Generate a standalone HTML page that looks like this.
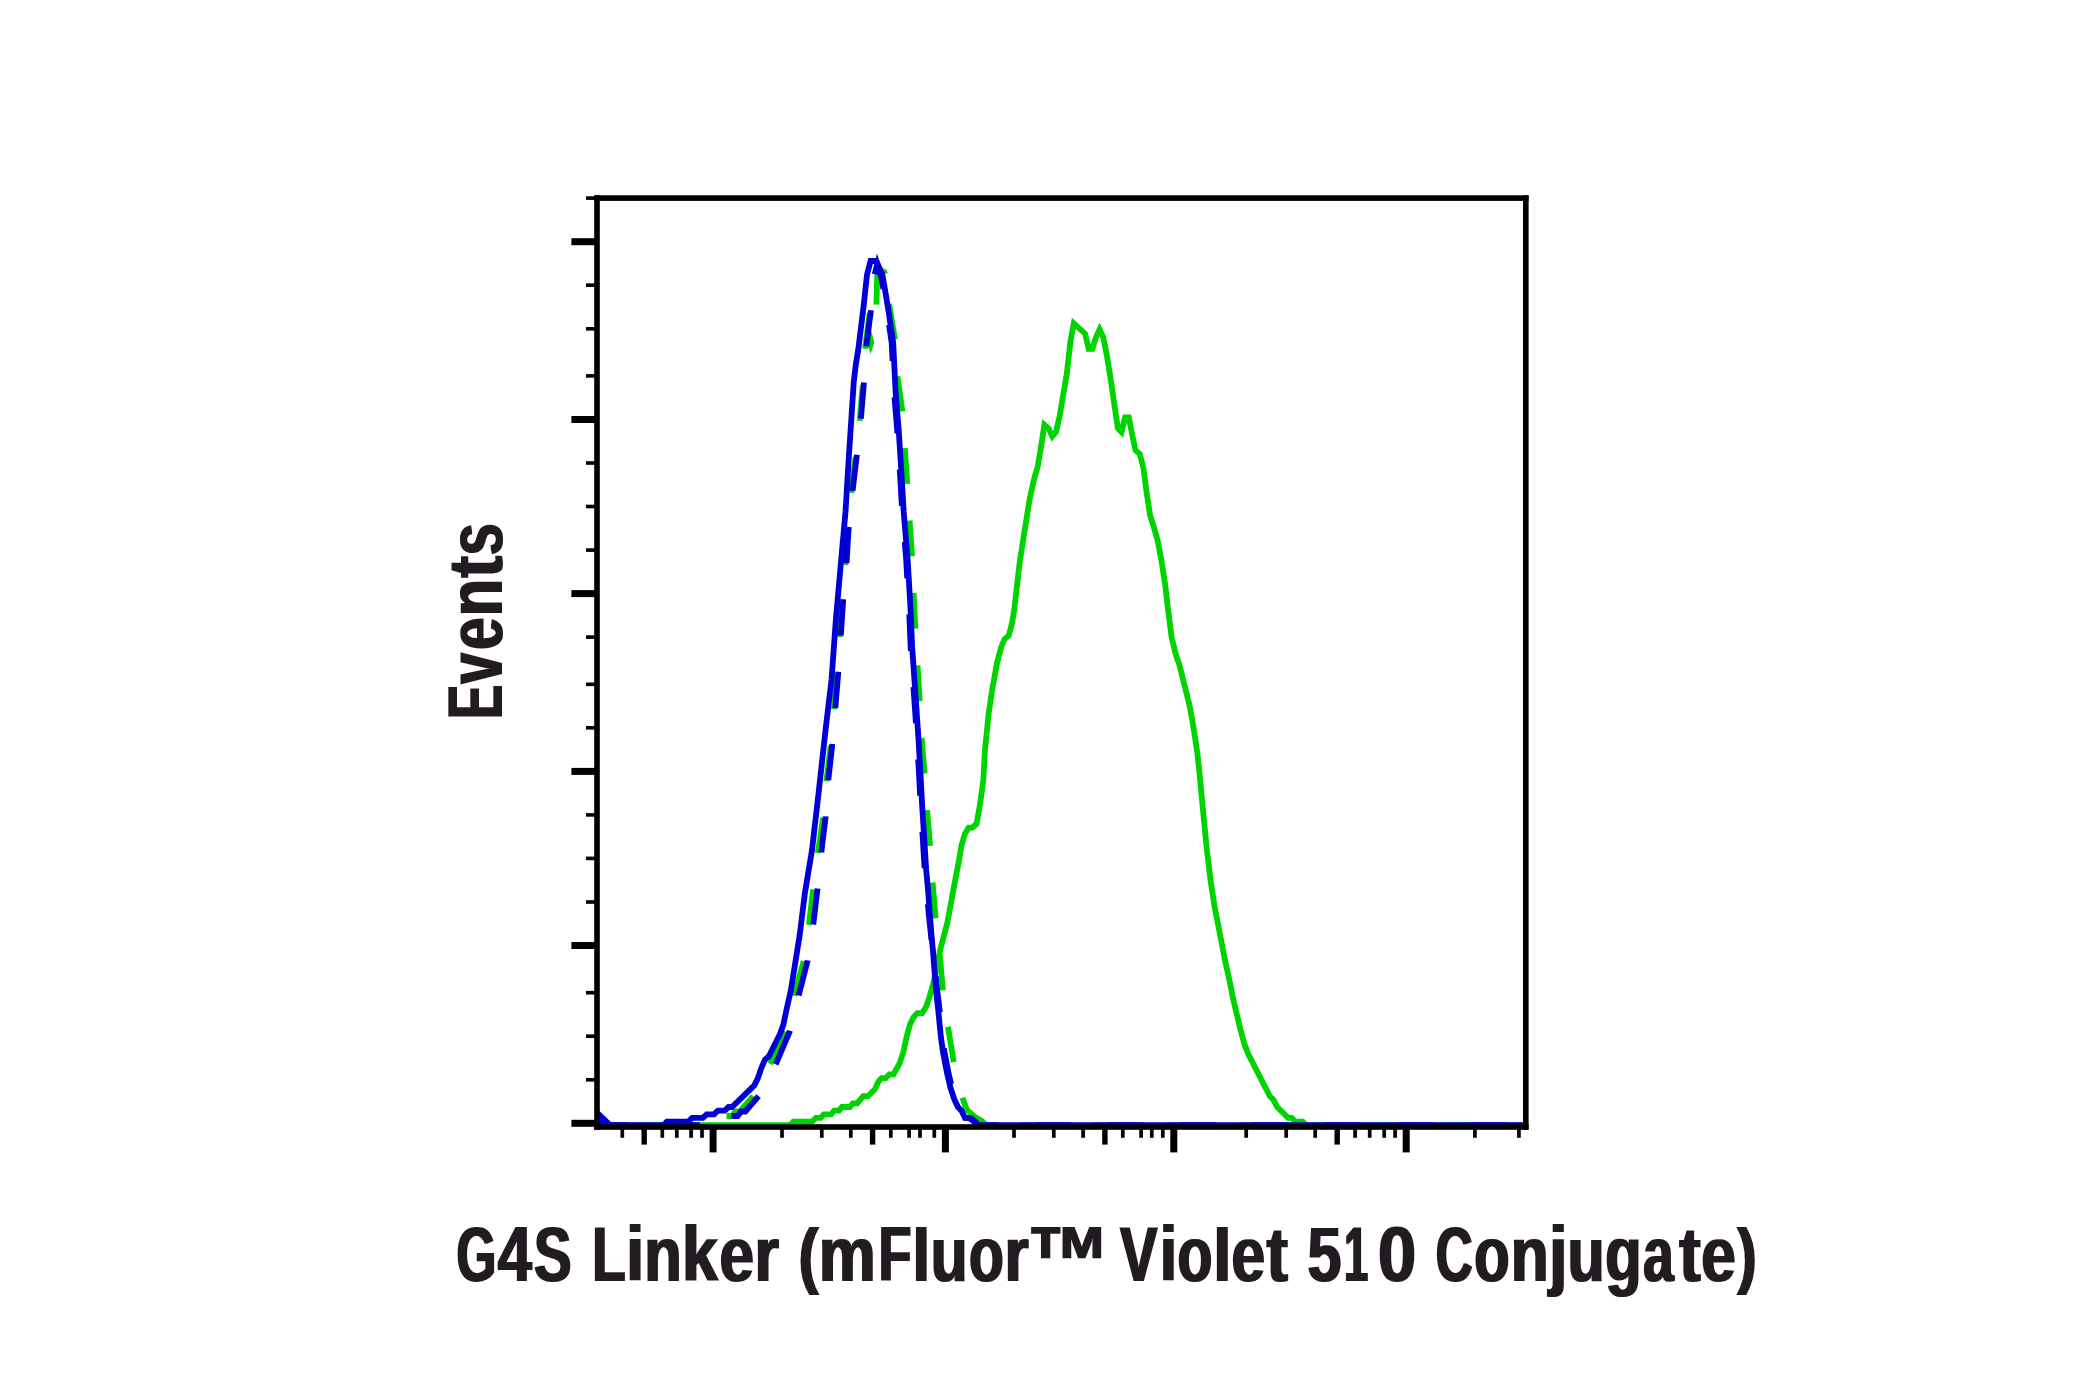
<!DOCTYPE html>
<html lang="en">
<head>
<meta charset="utf-8">
<title>G4S Linker (mFluor™ Violet 510 Conjugate) – flow cytometry histogram</title>
<style>
html,body{margin:0;padding:0;background:#ffffff;overflow:hidden;}
body{width:2080px;height:1400px;overflow:hidden;font-family:"Liberation Sans",Arial,Helvetica,sans-serif;}
svg{display:block;}
</style>
</head>
<body>
<svg width="2080" height="1400" viewBox="0 0 2080 1400">
<rect width="2080" height="1400" fill="#ffffff"/>
<g fill="none" stroke-linejoin="miter" stroke-miterlimit="10" stroke-linecap="butt">
<polyline id="gs" stroke="#00d400" stroke-width="5.8" points="597.0,1125.2 790.4,1125.2 793.4,1121.6 812.2,1121.6 815.9,1117.9 820.7,1117.9 823.8,1114.3 831.1,1114.3 834.1,1110.7 839.0,1110.7 842.0,1107.0 849.9,1107.0 852.9,1103.4 857.2,1103.4 863.2,1096.2 868.1,1096.2 874.8,1089.4 878.4,1081.5 881.5,1078.1 885.7,1078.1 889.4,1074.4 893.6,1074.4 899.7,1063.2 903.3,1052.3 906.4,1037.7 910.0,1024.4 913.6,1017.1 917.3,1013.1 922.2,1013.1 926.4,1006.2 930.0,995.2 933.7,981.9 940.2,950.0 947.5,922.1 953.5,889.3 959.0,860.2 961.4,845.6 965.1,833.4 968.7,827.6 972.4,827.6 976.6,823.7 979.6,806.7 982.1,789.7 983.3,780.0 985.0,749.7 988.7,713.2 992.3,689.0 997.2,662.2 1001.4,646.4 1004.5,639.2 1008.7,635.7 1011.7,624.6 1014.2,610.0 1019.5,563.9 1023.2,539.6 1029.8,498.3 1034.1,478.9 1037.7,466.7 1041.0,447.0 1044.4,424.8 1048.6,428.5 1052.3,436.4 1055.9,432.1 1059.6,416.3 1066.8,373.8 1070.5,341.0 1073.8,323.4 1085.1,333.7 1088.7,348.9 1092.4,348.9 1096.0,337.4 1099.6,329.5 1103.3,337.4 1106.9,355.6 1110.6,378.7 1117.9,428.5 1121.5,432.1 1125.1,417.5 1128.8,417.5 1132.4,435.8 1135.5,450.3 1139.8,454.0 1143.4,467.9 1146.4,491.0 1150.1,515.3 1154.3,528.7 1158.0,542.0 1161.6,561.5 1165.3,585.7 1167.5,605.0 1171.7,637.7 1175.9,654.7 1179.6,665.6 1189.9,706.9 1193.5,727.5 1197.2,751.8 1199.2,770.0 1203.2,812.5 1206.8,849.0 1210.4,879.3 1214.7,907.3 1221.1,940.0 1224.9,960.0 1229.8,981.9 1233.4,1000.1 1240.7,1030.4 1244.4,1043.8 1248.0,1053.5 1269.9,1096.2 1273.5,1099.8 1277.2,1107.0 1288.1,1117.9 1291.7,1117.9 1295.4,1121.6 1302.7,1121.6 1306.3,1125.2 1526.0,1125.2"/>
<polyline id="gdl" stroke="#00d400" stroke-width="5.8" stroke-dasharray="35.9 36.5" stroke-dashoffset="9" points="597.0,1121.0 601.0,1125.2 694.5,1125.2 698.1,1120.4 718.5,1120.4 722.1,1116.0 732.1,1116.0 735.5,1111.5 739.8,1111.5 753.5,1095.7 762.5,1080.0 771.1,1062.3 784.4,1031.0 794.6,994.5 803.7,961.1 809.0,924.1 813.2,888.9 818.3,850.0 823.2,817.3 826.5,780.2 830.9,744.4 834.2,707.9 837.3,672.2 839.8,635.7 842.2,599.9 845.5,563.4 847.7,527.6 851.6,490.8 855.8,455.5 859.9,418.5 862.9,383.3 865.3,346.6 870.2,309.0"/>
<polygon id="gdk" fill="#00d400" stroke="none" points="870.9,329.5 874.0,341 874.0,343.5 870.6,354 868,346 868,335"/>
<polyline id="gdt" stroke="#00d400" stroke-width="5.8" points="876.4,304.6 877.2,276.0 879.5,269.5 884.3,272.0 884.9,274.0"/>
<polyline id="gdr" stroke="#00d400" stroke-width="5.8" stroke-dasharray="35.8 36.75" points="889.1,304.0 894.9,339.1 897.5,376.3 902.4,411.6 904.8,448.2 907.3,484.1 909.6,520.9 912.1,556.8 913.6,593.2 915.4,629.6 917.5,665.5 919.8,701.3 921.6,738.3 924.6,773.5 927.1,810.6 930.1,845.8 932.6,882.8 935.7,918.6 939.8,954.5 942.9,990.9 948.0,1027.0 953.7,1062.0 958.0,1082.0 962.5,1098.0 967.0,1110.0 975.0,1117.0 982.0,1121.0 986.0,1125.2 1526.0,1125.2"/>
<polyline id="bd" stroke="#0000d4" stroke-width="5.8" stroke-dasharray="36.3 36.3" stroke-dashoffset="3.7" points="597.0,1119.0 603.5,1125.2 700.0,1125.2 703.6,1120.4 724.0,1120.4 727.6,1116.0 737.6,1116.0 741.0,1111.5 745.3,1111.5 759.0,1095.7 768.0,1080.0 776.6,1062.3 789.9,1031.0 798.9,994.5 807.5,961.1 813.3,924.1 817.5,888.9 821.6,850.0 825.6,817.3 828.3,780.2 832.3,744.4 835.3,707.9 838.3,672.2 840.8,635.7 843.2,599.9 846.5,563.4 848.7,527.6 852.6,490.8 856.8,455.5 860.9,418.5 863.9,383.3 866.3,346.6 870.9,310.3 874.5,275.0 877.3,264.0 880.8,274.7 883.3,288.4 887.3,312.7 891.7,343.0 894.2,393.6 897.2,430.0 900.3,478.6 902.2,512.0 906.1,558.6 909.0,608.0 910.6,646.4 913.3,685.0 916.8,736.0 918.8,770.0 920.5,803.0 922.9,840.7 924.7,869.9 926.5,889.3 928.7,913.6 931.3,937.9 932.9,950.0 937.2,990.0 940.0,1013.0 942.5,1038.0 944.5,1052.0 948.5,1073.0 952.0,1088.0 956.0,1099.8 959.5,1107.0 963.0,1110.7 966.5,1117.9 970.5,1117.9 975.5,1121.6 978.0,1125.2 1526.0,1125.2"/>
<polyline id="bs" stroke="#0000d4" stroke-width="5.8" points="597.0,1112.7 610.0,1125.2 663.4,1125.2 666.9,1121.6 688.3,1121.6 692.1,1117.9 702.9,1117.9 706.7,1114.3 714.0,1114.3 717.9,1110.7 724.7,1110.7 728.6,1107.0 732.0,1107.0 754.3,1085.4 757.7,1078.6 761.6,1067.4 765.0,1059.7 768.9,1056.3 780.0,1034.0 783.4,1024.6 786.0,1012.0 791.0,989.7 799.7,935.0 805.0,892.5 812.0,850.0 819.0,789.3 825.7,728.6 831.5,680.0 835.9,619.3 840.2,570.7 845.5,512.0 849.0,454.3 851.4,417.9 853.8,381.4 856.0,363.2 858.2,350.0 863.8,304.6 867.0,274.7 870.6,261.0 876.3,261.0 882.3,274.7 884.8,288.4 888.8,312.7 893.2,343.0 895.7,393.6 898.7,430.0 901.8,478.6 903.7,512.0 907.6,558.6 910.5,608.0 912.1,646.4 914.8,685.0 918.3,736.0 920.3,770.0 922.0,803.0 924.4,840.7 926.2,869.9 928.0,889.3 929.8,913.6 931.7,937.9 932.9,950.0 936.0,990.0 938.5,1013.0 941.0,1038.0 943.0,1052.0 947.0,1073.0 950.5,1088.0 954.5,1099.8 958.0,1107.0 961.5,1110.7 965.0,1117.9 969.0,1117.9 974.0,1121.6 978.0,1125.2 1526.0,1125.2"/>
</g>
<g fill="#000000">
<rect x="594.2" y="195.3" width="5.6" height="934.5"/>
<rect x="1523.0" y="195.3" width="5.6" height="934.5"/>
<rect x="594.2" y="195.3" width="934.4" height="5.6"/>
<rect x="594.2" y="1124.2" width="934.4" height="5.6"/>
<rect x="586" y="196.3" width="9.5" height="3.6"/>
<rect x="571.4" y="238.2" width="24" height="7"/>
<rect x="586" y="283.4" width="9.5" height="3.6"/>
<rect x="586" y="327.0" width="9.5" height="3.6"/>
<rect x="586" y="374.1" width="9.5" height="3.6"/>
<rect x="571.4" y="416.0" width="24" height="7"/>
<rect x="586" y="461.2" width="9.5" height="3.6"/>
<rect x="586" y="504.7" width="9.5" height="3.6"/>
<rect x="586" y="548.3" width="9.5" height="3.6"/>
<rect x="571.4" y="590.1" width="24" height="7"/>
<rect x="586" y="635.3" width="9.5" height="3.6"/>
<rect x="586" y="682.5" width="9.5" height="3.6"/>
<rect x="586" y="726.0" width="9.5" height="3.6"/>
<rect x="571.4" y="767.9" width="24" height="7"/>
<rect x="586" y="813.1" width="9.5" height="3.6"/>
<rect x="586" y="856.6" width="9.5" height="3.6"/>
<rect x="586" y="900.2" width="9.5" height="3.6"/>
<rect x="571.4" y="942.0" width="24" height="7"/>
<rect x="586" y="990.9" width="9.5" height="3.6"/>
<rect x="586" y="1034.4" width="9.5" height="3.6"/>
<rect x="586" y="1078.0" width="9.5" height="3.6"/>
<rect x="571.4" y="1119.8" width="24" height="7"/>
<rect x="620.45" y="1128.8" width="3.7" height="9.0"/>
<rect x="660.45" y="1128.8" width="3.7" height="9.0"/>
<rect x="674.95" y="1128.8" width="3.7" height="9.0"/>
<rect x="689.25" y="1128.8" width="3.7" height="9.0"/>
<rect x="700.15" y="1128.8" width="3.7" height="9.0"/>
<rect x="780.15" y="1128.8" width="3.7" height="9.0"/>
<rect x="819.95" y="1128.8" width="3.7" height="9.0"/>
<rect x="848.95" y="1128.8" width="3.7" height="9.0"/>
<rect x="888.95" y="1128.8" width="3.7" height="9.0"/>
<rect x="907.25" y="1128.8" width="3.7" height="9.0"/>
<rect x="918.15" y="1128.8" width="3.7" height="9.0"/>
<rect x="932.45" y="1128.8" width="3.7" height="9.0"/>
<rect x="1012.15" y="1128.8" width="3.7" height="9.0"/>
<rect x="1051.95" y="1128.8" width="3.7" height="9.0"/>
<rect x="1081.25" y="1128.8" width="3.7" height="9.0"/>
<rect x="1120.95" y="1128.8" width="3.7" height="9.0"/>
<rect x="1139.25" y="1128.8" width="3.7" height="9.0"/>
<rect x="1149.95" y="1128.8" width="3.7" height="9.0"/>
<rect x="1160.95" y="1128.8" width="3.7" height="9.0"/>
<rect x="1244.35" y="1128.8" width="3.7" height="9.0"/>
<rect x="1284.35" y="1128.8" width="3.7" height="9.0"/>
<rect x="1313.35" y="1128.8" width="3.7" height="9.0"/>
<rect x="1353.25" y="1128.8" width="3.7" height="9.0"/>
<rect x="1367.85" y="1128.8" width="3.7" height="9.0"/>
<rect x="1382.35" y="1128.8" width="3.7" height="9.0"/>
<rect x="1393.25" y="1128.8" width="3.7" height="9.0"/>
<rect x="1473.05" y="1128.8" width="3.7" height="9.0"/>
<rect x="1517.05" y="1128.8" width="3.7" height="9.0"/>
<rect x="641.50" y="1128.8" width="5.4" height="15.8"/>
<rect x="869.90" y="1128.8" width="5.4" height="15.8"/>
<rect x="1102.20" y="1128.8" width="5.4" height="15.8"/>
<rect x="1334.50" y="1128.8" width="5.4" height="15.8"/>
<rect x="709.60" y="1128.8" width="7" height="23.6"/>
<rect x="941.90" y="1128.8" width="7" height="23.6"/>
<rect x="1170.30" y="1128.8" width="7" height="23.6"/>
<rect x="1402.70" y="1128.8" width="7" height="23.6"/>
</g>
<defs><filter id="hb" x="-5%" y="-20%" width="110%" height="140%"><feMorphology operator="dilate" radius="1 0"/></filter><filter id="vb" x="-20%" y="-5%" width="140%" height="110%"><feMorphology operator="dilate" radius="0 1"/></filter></defs>
<g fill="#231f20" font-family="'Liberation Sans', Arial, Helvetica, sans-serif" font-weight="bold" font-size="78.5">
<g filter="url(#hb)"><text x="457" y="1280.8"><tspan x="456.50" y="1280.8" textLength="39.77" lengthAdjust="spacingAndGlyphs">G</tspan><tspan x="497.67" y="1280.8" textLength="34.06" lengthAdjust="spacingAndGlyphs">4</tspan><tspan x="533.98" y="1280.8" textLength="37.52" lengthAdjust="spacingAndGlyphs">S</tspan> <tspan x="592.35" y="1280.8" textLength="33.33" lengthAdjust="spacingAndGlyphs">L</tspan><tspan x="626.22" y="1280.8" textLength="17.82" lengthAdjust="spacingAndGlyphs">i</tspan><tspan x="644.16" y="1280.8" textLength="37.44" lengthAdjust="spacingAndGlyphs">n</tspan><tspan x="682.07" y="1280.8" textLength="36.06" lengthAdjust="spacingAndGlyphs">k</tspan><tspan x="719.47" y="1280.8" textLength="34.55" lengthAdjust="spacingAndGlyphs">e</tspan><tspan x="754.45" y="1280.8" textLength="24.50" lengthAdjust="spacingAndGlyphs">r</tspan> <tspan x="798.50" y="1279.8" textLength="20.06" lengthAdjust="spacingAndGlyphs" font-size="72.74">(</tspan><tspan x="818.87" y="1280.8" textLength="57.00" lengthAdjust="spacingAndGlyphs">m</tspan><tspan x="878.39" y="1280.8" textLength="32.99" lengthAdjust="spacingAndGlyphs">F</tspan><tspan x="912.57" y="1280.8" textLength="17.62" lengthAdjust="spacingAndGlyphs" font-size="74.53">l</tspan><tspan x="930.76" y="1280.8" textLength="36.81" lengthAdjust="spacingAndGlyphs">u</tspan><tspan x="968.88" y="1280.8" textLength="34.74" lengthAdjust="spacingAndGlyphs">o</tspan><tspan x="1004.39" y="1280.8" textLength="24.25" lengthAdjust="spacingAndGlyphs">r</tspan><tspan x="1027.01" y="1295.9" textLength="83.34" lengthAdjust="spacingAndGlyphs" font-size="100.0">™</tspan> <tspan x="1120.02" y="1280.8" textLength="37.47" lengthAdjust="spacingAndGlyphs">V</tspan><tspan x="1159.72" y="1280.8" textLength="17.41" lengthAdjust="spacingAndGlyphs">i</tspan><tspan x="1177.47" y="1280.8" textLength="34.86" lengthAdjust="spacingAndGlyphs">o</tspan><tspan x="1213.32" y="1280.8" textLength="18.22" lengthAdjust="spacingAndGlyphs" font-size="74.53">l</tspan><tspan x="1231.54" y="1280.8" textLength="33.63" lengthAdjust="spacingAndGlyphs">e</tspan><tspan x="1266.41" y="1280.8" textLength="21.47" lengthAdjust="spacingAndGlyphs">t</tspan> <tspan x="1307.43" y="1280.8" textLength="33.87" lengthAdjust="spacingAndGlyphs">5</tspan><tspan x="1344.31" y="1280.8" textLength="23.78" lengthAdjust="spacingAndGlyphs">1</tspan><tspan x="1377.99" y="1280.8" textLength="38.12" lengthAdjust="spacingAndGlyphs">0</tspan> <tspan x="1435.70" y="1280.8" textLength="36.89" lengthAdjust="spacingAndGlyphs">C</tspan><tspan x="1474.24" y="1280.8" textLength="35.32" lengthAdjust="spacingAndGlyphs">o</tspan><tspan x="1510.80" y="1280.8" textLength="37.95" lengthAdjust="spacingAndGlyphs">n</tspan><tspan x="1549.04" y="1280.8" textLength="18.55" lengthAdjust="spacingAndGlyphs">j</tspan><tspan x="1567.52" y="1280.8" textLength="37.19" lengthAdjust="spacingAndGlyphs">u</tspan><tspan x="1605.36" y="1280.8" textLength="36.32" lengthAdjust="spacingAndGlyphs">g</tspan><tspan x="1643.20" y="1280.8" textLength="30.35" lengthAdjust="spacingAndGlyphs">a</tspan><tspan x="1679.31" y="1280.8" textLength="21.47" lengthAdjust="spacingAndGlyphs">t</tspan><tspan x="1701.27" y="1280.8" textLength="34.55" lengthAdjust="spacingAndGlyphs">e</tspan><tspan x="1737.24" y="1279.8" textLength="19.47" lengthAdjust="spacingAndGlyphs" font-size="72.74">)</tspan></text></g>
<g filter="url(#vb)"><text transform="translate(502 0) rotate(-90)" x="-717" y="0"><tspan x="-719.12" y="0" textLength="34.12" lengthAdjust="spacingAndGlyphs">E</tspan><tspan x="-683.72" y="0" textLength="30.76" lengthAdjust="spacingAndGlyphs">v</tspan><tspan x="-649.76" y="0" textLength="32.25" lengthAdjust="spacingAndGlyphs">e</tspan><tspan x="-616.23" y="0" textLength="37.31" lengthAdjust="spacingAndGlyphs">n</tspan><tspan x="-577.49" y="0" textLength="21.47" lengthAdjust="spacingAndGlyphs">t</tspan><tspan x="-555.32" y="0" textLength="31.98" lengthAdjust="spacingAndGlyphs">s</tspan></text></g>
</g>
</svg>
</body>
</html>
